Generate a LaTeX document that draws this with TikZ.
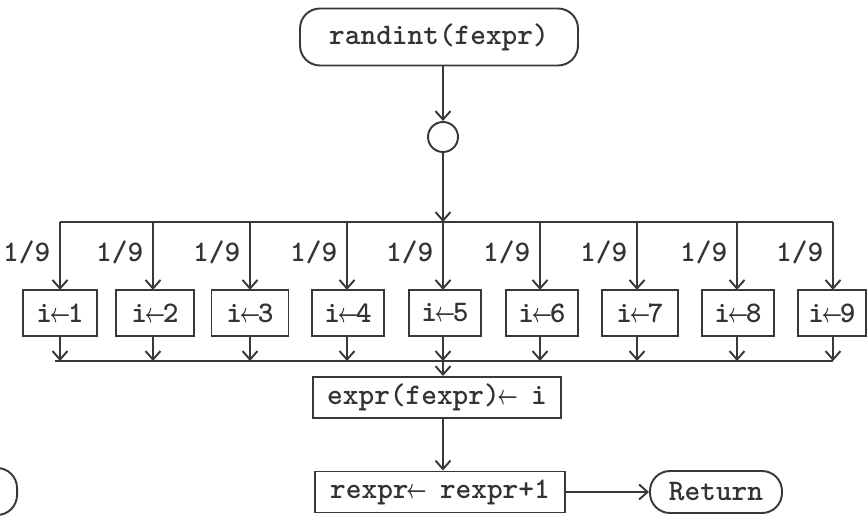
\documentclass[tikz,border=0pt]{standalone}
\usepackage{amsmath}
\usetikzlibrary{arrows.meta}

% narrow assignment arrow, one typewriter cell wide
\newcommand{\asgn}{\makebox[0.525em]{\scalebox{0.58}[0.9]{$\boldsymbol{\leftarrow}$}}}

\begin{document}
\begin{tikzpicture}[scale=0.2,
  ink/.style={draw=black!78, line width=1.1pt},
  flow/.style={ink, -{Straight Barb[length=1.7mm,width=3mm]}},
  stepbox/.style={ink, rectangle, minimum height=0.92cm},
  term/.style={ink, rectangle, rounded corners=0.4cm},
  prob/.style={left=5pt}]
\tikzstyle{every node}+=[inner sep=0pt, text=black!80, font=\fontsize{17}{20}\selectfont\ttfamily\bfseries]
\useasboundingbox (0,0) rectangle (86.7,-51.6);
\node [term, minimum width=5.56cm, minimum height=1.14cm] (start) at (43.9,-3.7) {randint(fexpr)};
\node [ink, circle, minimum size=0.6cm] (hub) at (44.3,-13.7) {};
\coordinate (fork) at (44.3,-22.2);
\coordinate (forkL) at (6.0,-22.2);
\coordinate (forkR) at (83.3,-22.2);
\coordinate (join) at (44.3,-36.1);
\coordinate (joinL) at (5.5,-36.1);
\coordinate (joinR) at (83.3,-36.1);
% the nine equally likely assignments
\node [stepbox, minimum width=1.48cm] (set1) at (6.0,-31.3) {i\asgn1};
\node [stepbox, minimum width=1.56cm] (set2) at (15.5,-31.3) {i\asgn2};
\node [stepbox, minimum width=1.54cm] (set3) at (25.0,-31.3) {i\asgn3};
\node [stepbox, minimum width=1.44cm] (set4) at (34.8,-31.3) {i\asgn4};
\node [stepbox, minimum width=1.44cm] (set5) at (44.5,-31.3) {i\asgn5};
\node [stepbox, minimum width=1.44cm] (set6) at (54.2,-31.3) {i\asgn6};
\node [stepbox, minimum width=1.52cm] (set7) at (64.0,-31.3) {i\asgn7};
\node [stepbox, minimum width=1.44cm] (set8) at (73.8,-31.3) {i\asgn8};
\node [stepbox, minimum width=1.36cm] (set9) at (83.2,-31.3) {i\asgn9};
\node [stepbox, minimum width=4.96cm, minimum height=0.82cm] (store) at (43.7,-39.75) {expr(fexpr)\asgn{} i};
\node [stepbox, minimum width=5.0cm, minimum height=0.82cm] (incr) at (44.0,-49.2) {rexpr\asgn{} rexpr+1};
\node [term, minimum width=2.64cm, minimum height=0.84cm] (ret) at (71.6,-49.2) {Return};
\node [term, minimum width=2.64cm, minimum height=0.94cm, anchor=east] (prev) at (1.8,-49.15) {};
% spine and fan out
\draw [flow] (hub |- start.south) -- (hub.north);
\draw [flow] (hub.south) -- (fork);
\draw [ink] (forkL) -- (forkR);
\draw [flow] (6.0,-22.2) -- (6.0,-28.99) node [prob, pos=0.45] (p1) {1/9};
\draw [flow] (15.3,-22.2) -- (15.3,-28.99) node [prob, pos=0.45] (p2) {1/9};
\draw [flow] (25.0,-22.2) -- (25.0,-28.99) node [prob, pos=0.45] (p3) {1/9};
\draw [flow] (34.7,-22.2) -- (34.7,-28.99) node [prob, pos=0.45] (p4) {1/9};
\draw [flow] (44.3,-22.2) -- (44.3,-28.99) node [prob, pos=0.45] (p5) {1/9};
\draw [flow] (54.0,-22.2) -- (54.0,-28.99) node [prob, pos=0.45] (p6) {1/9};
\draw [flow] (63.7,-22.2) -- (63.7,-28.99) node [prob, pos=0.45] (p7) {1/9};
\draw [flow] (73.7,-22.2) -- (73.7,-28.99) node [prob, pos=0.45] (p8) {1/9};
\draw [flow] (83.3,-22.2) -- (83.3,-28.99) node [prob, pos=0.45] (p9) {1/9};
% fan in
\draw [flow] (6.0,-33.6) -- (6.0,-36.1);
\draw [flow] (15.3,-33.6) -- (15.3,-36.1);
\draw [flow] (25.0,-33.6) -- (25.0,-36.1);
\draw [flow] (34.7,-33.6) -- (34.7,-36.1);
\draw [flow] (44.3,-33.6) -- (44.3,-36.1);
\draw [flow] (54.0,-33.6) -- (54.0,-36.1);
\draw [flow] (63.7,-33.6) -- (63.7,-36.1);
\draw [flow] (73.7,-33.6) -- (73.7,-36.1);
\draw [flow] (83.3,-33.6) -- (83.3,-36.1);
\draw [ink] (joinL) -- (joinR);
\draw [flow] (join) -- (join |- store.north);
\draw [flow] (join |- store.south) -- (join |- incr.north);
\draw [flow] (incr.east) -- (ret.west);
\end{tikzpicture}
\end{document}
